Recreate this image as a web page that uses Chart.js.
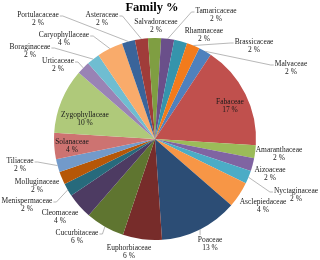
<!DOCTYPE html>
<html>
<head>
<meta charset="utf-8">
<script src="https://cdn.jsdelivr.net/npm/chart.js@4"></script>
<style>
    html, body { margin: 0; padding: 0; background: #fff; }
    #wrap { width: 320px; height: 260px; position: relative; }
</style>
</head>
<body>
<div id="wrap"><canvas id="familyChart" width="320" height="260"></canvas></div>
<script>
// families, clockwise from the first slice (Malvaceae)
var FAMILIES = ['Malvaceae','Fabaceae','Amaranthaceae','Aizoaceae','Nyctaginaceae','Asclepiedaceae',
    'Poaceae','Euphorbiaceae','Cucurbitaceae','Cleomaceae','Menispermaceae','Molluginaceae',
    'Tiliaceae','Solanaceae','Zygophyllaceae','Urticaceae','Boraginaceae','Caryophyllaceae',
    'Portulacaceae','Asteraceae','Salvadoraceae','Tamaricaceae','Rhamnaceae','Brassicaceae'];
// species per family (2 % = 1 species of 48)
var SPECIES = [1, 8, 1, 1, 1, 2,
    6, 3, 3, 2, 1, 1,
    1, 2, 5, 1, 1, 2,
    1, 1, 1, 1, 1, 1];

var COLORS = ['#4F81BD','#C0504D','#9BBB59','#8064A2','#4BACC6','#F79646',
    '#2C4D75','#772C2A','#5F7530','#4D3B62','#276A7C','#B65708',
    '#729ACA','#CD7371','#AFC97A','#9983B5','#6FBDD1','#F9AB6B',
    '#3A649A','#A03C3A','#7F9E42','#6A4F8A','#3594AC','#F27B1C'];

// label placement: [centre x, first line y, leader line?]
var LABEL_AT = [
    [291, 64, 1], [230, 102, 0], [279, 150, 0], [270, 170, 0], [296, 191, 1], [263, 202, 0],
    [210, 240, 1], [129, 248, 0], [77, 233, 1], [60, 213, 0], [27, 201, 1], [37, 182, 0],
    [20, 161, 1], [72, 142, 0], [85, 115, 0], [58, 61, 1], [30, 47, 1], [64, 35, 1],
    [38, 15, 1], [102, 15, 1], [156, 22, 0], [216, 11, 1], [204, 31, 0], [254, 42, 1]
];

var total = SPECIES.reduce(function(a, b) { return a + b; }, 0);

var familyLabels = {
    id: 'familyLabels',
    afterDraw: function(chart) {
        var ctx = chart.ctx;
        var arcs = chart.getDatasetMeta(0).data;
        ctx.save();

        // title
        ctx.fillStyle = '#000';
        ctx.font = 'bold 12.5px "Liberation Serif", serif';
        ctx.textAlign = 'center';
        ctx.textBaseline = 'middle';
        ctx.fillText('Family %', 152, 8);

        ctx.font = '7.5px "Liberation Serif", serif';
        arcs.forEach(function(arc, i) {
            var p = arc.getProps(['x', 'y', 'startAngle', 'endAngle', 'outerRadius'], true);
            var mid = (p.startAngle + p.endAngle) / 2;
            var ex = p.x + Math.cos(mid) * p.outerRadius;
            var ey = p.y + Math.sin(mid) * p.outerRadius;
            var pos = LABEL_AT[i];
            var name = FAMILIES[i];
            var pct = Math.round(SPECIES[i] / total * 100) + ' %';
            var w = ctx.measureText(name).width;

            if (pos[2]) {
                var left = pos[0] - w / 2 - 1, right = pos[0] + w / 2 + 1;
                var ax, ay, sx;
                if (ex >= left && ex <= right) {
                    ax = ex; ay = ey < pos[1] ? pos[1] - 5 : pos[1] + 13; sx = ax;
                } else if (ex < left) {
                    ax = left; ay = pos[1] + 1; sx = ax - 3;
                } else {
                    ax = right; ay = pos[1] + 1; sx = ax + 3;
                }
                ctx.strokeStyle = '#a6a6a6';
                ctx.lineWidth = 0.8;
                ctx.beginPath();
                ctx.moveTo(ax, ay);
                ctx.lineTo(sx, ay);
                ctx.lineTo(ex, ey);
                ctx.stroke();
            }

            ctx.fillStyle = '#1a1a1a';
            ctx.fillText(name, pos[0], pos[1]);
            ctx.fillText(pct, pos[0], pos[1] + 8.5);
        });
        ctx.restore();
    }
};

document.addEventListener('DOMContentLoaded', function() {
    new Chart(document.getElementById('familyChart'), {
        type: 'pie',
        data: {
            labels: FAMILIES,
            datasets: [{ data: SPECIES, backgroundColor: COLORS, borderWidth: 0 }]
        },
        options: {
            responsive: false,
            animation: false,
            rotation: 26,
            layout: { padding: { left: 54, right: 64, top: 38, bottom: 20 } },
            plugins: {
                legend: { display: false },
                tooltip: { enabled: false },
                title: { display: false }
            }
        },
        plugins: [familyLabels]
    });
});
</script>
</body>
</html>
